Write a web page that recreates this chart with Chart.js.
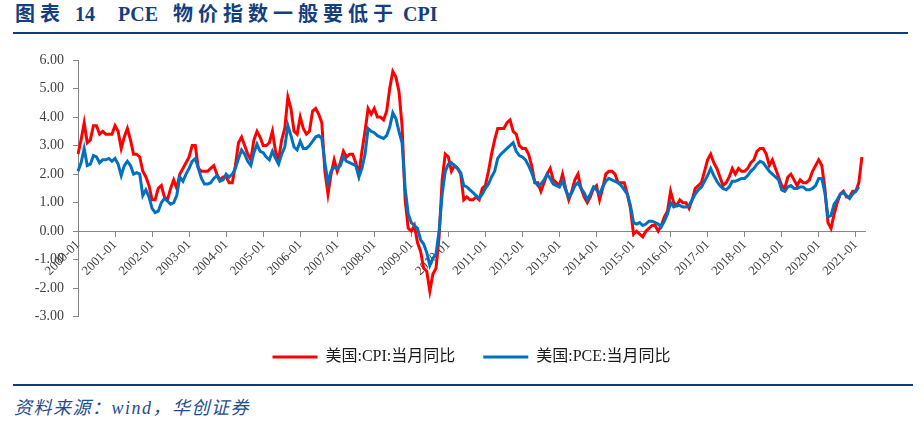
<!DOCTYPE html>
<html>
<head>
<meta charset="utf-8">
<script src="https://cdn.jsdelivr.net/npm/chart.js@4.4.1/dist/chart.umd.min.js"></script>
<style>
  body { margin: 0; background: #fff; width: 924px; height: 422px; position: relative; overflow: hidden; }
  .t { position: absolute; top: 1px; font: bold 20px "Liberation Serif", "Noto Sans CJK SC"; color: #143f7e; white-space: nowrap; line-height: 26px; }
  .rule { position: absolute; background: #0e3d7e; height: 2px; }
  #src { position: absolute; left: 14px; top: 393px; font: italic 18px "Liberation Serif", "Noto Sans CJK SC"; color: #1f4e8c; letter-spacing: 1.5px; white-space: nowrap; }
  #box { position: absolute; left: 0; top: 40px; width: 924px; height: 339px; }
</style>
</head>
<body>
<div class="t" style="left:15px;letter-spacing:5px">图表</div>
<div class="t" style="left:75px">14</div>
<div class="t" style="left:118px">PCE</div>
<div class="t" style="left:173px;letter-spacing:5px">物价指数一般要低于</div>
<div class="t" style="left:403px">CPI</div>
<div class="rule" style="left:13px;top:32px;width:895px"></div>

<div id="box"><canvas id="chartPce"></canvas></div>

<div class="rule" style="left:13px;top:384px;width:900px"></div>
<div id="src">资料来源：wind，华创证券</div>

<script>
// ====== Datos ======
// meses 2000-01 .. 2021-04
const meses = [];
for (let a = 2000; a <= 2021; a++) {
    for (let m = 1; m <= 12; m++) {
        if (a === 2021 && m > 4) break;
        meses.push(a + "-" + String(m).padStart(2, "0"));
    }
}

// 美国:CPI:当月同比 (%)
const cpi = [
    2.7, 3.2, 3.8, 3.1, 3.2, 3.7, 3.7, 3.4, 3.5, 3.4, 3.4, 3.4,        // 2000
    3.7, 3.5, 2.9, 3.3, 3.6, 3.2, 2.7, 2.7, 2.6, 2.1, 1.9, 1.6,        // 2001
    1.1, 1.1, 1.5, 1.6, 1.2, 1.1, 1.5, 1.8, 1.5, 2.0, 2.2, 2.4,        // 2002
    2.6, 3.0, 3.0, 2.2, 2.1, 2.1, 2.1, 2.2, 2.3, 2.0, 1.8, 1.9,        // 2003
    1.9, 1.7, 1.7, 2.3, 3.1, 3.3, 3.0, 2.7, 2.5, 3.2, 3.5, 3.3,        // 2004
    3.0, 3.0, 3.1, 3.5, 2.8, 2.5, 3.2, 3.6, 4.7, 4.3, 3.5, 3.4,        // 2005
    4.0, 3.6, 3.4, 3.5, 4.2, 4.3, 4.1, 3.8, 2.1, 1.3, 2.0, 2.5,        // 2006
    2.1, 2.4, 2.8, 2.6, 2.7, 2.7, 2.4, 2.0, 2.8, 3.5, 4.3, 4.1,        // 2007
    4.3, 4.0, 4.0, 3.9, 4.2, 5.0, 5.6, 5.4, 4.9, 3.7, 1.1, 0.1,        // 2008
    0.0, 0.2, -0.4, -0.7, -1.3, -1.4, -2.1, -1.5, -1.3, -0.2, 1.8, 2.7, // 2009
    2.6, 2.1, 2.3, 2.2, 2.0, 1.1, 1.2, 1.1, 1.1, 1.2, 1.1, 1.5,        // 2010
    1.6, 2.1, 2.7, 3.2, 3.6, 3.6, 3.6, 3.8, 3.9, 3.5, 3.4, 3.0,        // 2011
    2.9, 2.9, 2.7, 2.3, 1.7, 1.7, 1.4, 1.7, 2.0, 2.2, 1.8, 1.7,        // 2012
    1.6, 2.0, 1.5, 1.1, 1.4, 1.8, 2.0, 1.5, 1.2, 1.0, 1.2, 1.5,        // 2013
    1.6, 1.1, 1.5, 2.0, 2.1, 2.1, 2.0, 1.7, 1.7, 1.7, 1.3, 0.8,        // 2014
    -0.1, 0.0, -0.1, -0.2, 0.0, 0.1, 0.2, 0.2, 0.0, 0.2, 0.5, 0.7,     // 2015
    1.4, 1.0, 0.9, 1.1, 1.0, 1.0, 0.8, 1.1, 1.5, 1.6, 1.7, 2.1,        // 2016
    2.5, 2.7, 2.4, 2.2, 1.9, 1.6, 1.7, 1.9, 2.2, 2.0, 2.2, 2.1,        // 2017
    2.1, 2.2, 2.4, 2.5, 2.8, 2.9, 2.9, 2.7, 2.3, 2.5, 2.2, 1.9,        // 2018
    1.6, 1.5, 1.9, 2.0, 1.8, 1.6, 1.8, 1.7, 1.7, 1.8, 2.1, 2.3,        // 2019
    2.5, 2.3, 1.5, 0.3, 0.1, 0.6, 1.0, 1.3, 1.4, 1.2, 1.2, 1.4,        // 2020
    1.4, 1.7, 2.6, null                                                 // 2021
];

// 美国:PCE:当月同比 (%)
const pce = [
    2.1, 2.4, 2.9, 2.3, 2.35, 2.65, 2.6, 2.4, 2.5, 2.5, 2.55, 2.45,        // 2000
    2.55, 2.35, 1.95, 2.3, 2.45, 2.3, 2.0, 2.05, 2.0, 1.25, 1.45, 1.2,     // 2001
    0.8, 0.65, 0.7, 1.0, 1.15, 1.05, 0.95, 1.0, 1.25, 1.9, 1.75, 2.0,      // 2002
    2.2, 2.45, 2.55, 2.2, 1.85, 1.65, 1.65, 1.7, 1.85, 1.95, 1.75, 1.8,    // 2003
    2.0, 1.9, 2.0, 2.2, 2.55, 2.85, 2.7, 2.45, 2.3, 2.75, 3.05, 2.8,       // 2004
    2.75, 2.6, 2.5, 2.8, 2.55, 2.35, 2.7, 2.95, 3.7, 3.35, 2.95, 2.85,     // 2005
    3.15, 2.9, 2.9, 3.0, 3.15, 3.3, 3.35, 3.25, 2.4, 1.7, 2.1, 2.25,       // 2006
    2.2, 2.3, 2.6, 2.45, 2.4, 2.35, 2.3, 1.9, 2.2, 2.7, 3.6, 3.5,         // 2007
    3.45, 3.35, 3.3, 3.25, 3.35, 3.65, 4.15, 3.95, 3.5, 3.1, 1.5, 0.6,     // 2008
    0.3, 0.2, 0.1, -0.3, -0.45, -0.75, -1.2, -0.95, -0.8, 0.0, 1.3, 2.1,  // 2009
    2.35, 2.4, 2.3, 2.2, 2.05, 1.6, 1.55, 1.45, 1.35, 1.25, 1.15, 1.3,     // 2010
    1.5, 1.65, 1.9, 2.1, 2.55, 2.7, 2.8, 2.9, 3.0, 3.1, 2.8, 2.65,         // 2011
    2.6, 2.5, 2.3, 2.05, 1.75, 1.6, 1.65, 1.8, 2.0, 1.85, 1.65, 1.6,       // 2012
    1.55, 1.75, 1.45, 1.2, 1.35, 1.6, 1.7, 1.5, 1.35, 1.1, 1.3, 1.55,      // 2013
    1.45, 1.3, 1.55, 1.75, 1.85, 1.8, 1.75, 1.7, 1.6, 1.45, 1.3, 0.9,      // 2014
    0.3, 0.25, 0.3, 0.2, 0.25, 0.35, 0.35, 0.3, 0.25, 0.15, 0.35, 0.6,     // 2015
    1.0, 0.85, 0.9, 0.9, 0.85, 0.85, 0.9, 1.1, 1.3, 1.45, 1.55, 1.75,      // 2016
    1.95, 2.2, 1.95, 1.75, 1.6, 1.5, 1.45, 1.55, 1.75, 1.75, 1.8, 1.85,    // 2017
    1.85, 1.95, 2.1, 2.2, 2.35, 2.45, 2.4, 2.25, 2.1, 2.0, 1.9, 1.8,       // 2018
    1.45, 1.4, 1.55, 1.6, 1.5, 1.5, 1.55, 1.55, 1.45, 1.45, 1.5, 1.6,      // 2019
    1.85, 1.85, 1.35, 0.5, 0.55, 0.95, 1.1, 1.3, 1.35, 1.25, 1.15, 1.3,    // 2020
    1.4, 1.55, null, null                                                   // 2021
];

const yTicks = [-3, -2, -1, 0, 1, 2, 3, 4, 5, 6];

// ====== Gráfico ======
const fuenteEje = { family: "Liberation Serif", size: 13 };
const grisEje = "#868686";

new Chart(document.getElementById("chartPce"), {
    type: "line",
    data: {
        labels: meses,
        datasets: [
            // PCE primero en datos para que quede dibujado encima; la leyenda va invertida
            { label: "美国:PCE:当月同比", data: pce, borderColor: "#0070c0", backgroundColor: "#0070c0",
              borderWidth: 3, pointRadius: 0, tension: 0, spanGaps: false },
            { label: "美国:CPI:当月同比", data: cpi, borderColor: "#ff0000", backgroundColor: "#ff0000",
              borderWidth: 3, pointRadius: 0, tension: 0, spanGaps: false }
        ]
    },
    options: {
        responsive: true,
        maintainAspectRatio: false,
        animation: false,
        layout: { padding: { left: 0, right: 59, top: 20, bottom: 4 } },
        plugins: {
            tooltip: { enabled: false },
            legend: {
                position: "bottom",
                fullSize: false,
                reverse: true,
                title: { display: true, text: " ", font: { size: 1 }, padding: { top: 0, bottom: 3 } },
                labels: {
                    usePointStyle: true,
                    pointStyle: "line",
                    pointStyleWidth: 45,
                    padding: 28,
                    color: "#1a1a1a",
                    font: { family: "Liberation Serif, 'Noto Sans CJK SC'", size: 16 }
                }
            }
        },
        scales: {
            x: {
                type: "category",
                position: { y: 0 },
                offset: false,
                grid: { display: true, drawOnChartArea: false, drawTicks: true, tickLength: 5, color: grisEje },
                border: { display: true, color: grisEje, width: 1 },
                ticks: {
                    autoSkip: false,
                    minRotation: 45,
                    maxRotation: 45,
                    padding: 1,
                    color: "#404040",
                    font: fuenteEje,
                    callback: (v, i) => (i % 12 === 0 ? meses[i] : null)
                }
            },
            y: {
                min: yTicks[0],
                max: yTicks[yTicks.length - 1],
                afterFit: (s) => { s.width = 78; },
                afterBuildTicks: (s) => { s.ticks = yTicks.map(v => ({ value: v })); },
                grid: { display: true, drawOnChartArea: false, drawTicks: true, tickLength: 5, color: grisEje },
                border: { display: true, color: grisEje, width: 1 },
                ticks: {
                    padding: 9,
                    color: "#404040",
                    font: { family: "Liberation Serif", size: 14 },
                    callback: (v) => Number(v).toFixed(2)
                }
            }
        }
    }
});
</script>
</body>
</html>
